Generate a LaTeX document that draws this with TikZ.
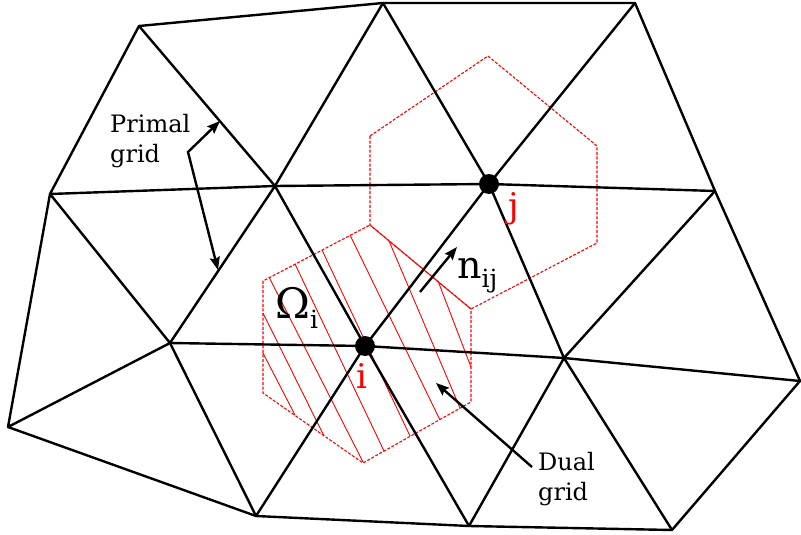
\documentclass[tikz,border=0pt]{standalone}
\usepackage{fontspec}
\setmainfont{DejaVu Serif}
\usetikzlibrary{arrows.meta}
\begin{document}
\begin{tikzpicture}[x=1pt,y=-1pt,
  edge/.style={line width=2.4pt, line cap=round, line join=round},
  dual/.style={red, line width=1.1pt, dash pattern=on 3pt off 1.6pt},
  hatch/.style={red, line width=0.9pt},
  pointer/.style={line width=2.4pt, line join=miter, -{Stealth[length=13pt,width=10pt,inset=2pt]}},
  dpointer/.style={line width=2.4pt, line join=miter, {Stealth[length=13pt,width=10pt,inset=2pt]}-{Stealth[length=13pt,width=10pt,inset=2pt]}},
  vdot/.style={circle, fill=black, inner sep=0pt, minimum size=20pt},
  lbl/.style={font=\fontsize{24}{30}\selectfont, inner sep=0pt, align=left, anchor=north west},
  redlbl/.style={red, font=\fontsize{34}{34}\selectfont, inner sep=0pt, anchor=base west},
  mathlbl/.style={inner sep=0pt, anchor=base west},
]
\useasboundingbox (0,0) rectangle (801,535);

% primal grid vertices
\coordinate (A) at (139,26);
\coordinate (B) at (383,3);
\coordinate (E) at (635,3);
\coordinate (C) at (50,194);
\coordinate (D) at (275,186);
\coordinate (F) at (715,191);
\coordinate (H) at (8,427);
\coordinate (G) at (170,343);
\coordinate (K) at (564,358);
\coordinate (L) at (800,381);
\coordinate (I) at (256,516);
\coordinate (M) at (469,526);
\coordinate (N) at (672,530);
\coordinate (Pi) at (365,346);
\coordinate (Pj) at (489,184);

% dual cells
\coordinate (a1) at (370,225);
\coordinate (a2) at (471,309);
\coordinate (a3) at (471,402);
\coordinate (a4) at (363,463);
\coordinate (a5) at (263,393);
\coordinate (a6) at (263,281);
\coordinate (b1) at (370,136);
\coordinate (b2) at (488,56);
\coordinate (b3) at (597,146);
\coordinate (b4) at (597,243);

% hatching of Omega_i
\draw[hatch] (263,353) -- (295,415);
\draw[hatch] (263,313) -- (324,436);
\draw[hatch] (269,277) -- (363,462);
\draw[hatch] (295,264) -- (384,451);
\draw[hatch] (322,250) -- (410,436);
\draw[hatch] (350,235) -- (440,420);
\draw[hatch] (389,241) -- (460,408);
\draw[hatch] (438,281) -- (471,367);

\draw[dual] (a1) -- (a2) -- (a3) -- (a4) -- (a5) -- (a6) -- cycle;
\draw[dual] (b1) -- (b2) -- (b3) -- (b4) -- (a2) -- (a1) -- cycle;

% primal edges
\draw[edge] (C) -- (A) -- (B) -- (E) -- (F) -- (L);
\draw[edge] (C) -- (D) -- (Pj) -- (F);
\draw[edge] (G) -- (Pi) -- (K) -- (L);
\draw[edge] (H) -- (I) -- (M) -- (N) -- (L);
\draw[edge] (C) -- (H) -- (G) -- (C);
\draw[edge] (A) -- (D) -- (B);
\draw[edge] (B) -- (Pj) -- (E);
\draw[edge] (G) -- (D) -- (Pi);
\draw[edge] (G) -- (I) -- (Pi) -- (M) -- (K) -- (N);
\draw[edge] (Pi) -- (Pj) -- (K) -- (F);

% vertex dots
\node[vdot] (i) at (Pi) {};
\node[vdot] (j) at (Pj) {};
\node[redlbl] (li) at (356,388) {i};
\node[redlbl] (lj) at (508,217) {j};

% labels
\node[lbl] (primal) at (110,114) {Primal\\grid};
\node[lbl] (dualg) at (538,452) {Dual\\grid};
\node[mathlbl] (omega) at (275,318) {\fontsize{42}{42}\selectfont Ω\raisebox{-10pt}{\fontsize{25}{25}\selectfont i}};
\node[mathlbl] (nij) at (457,278) {\fontsize{38}{38}\selectfont n\raisebox{-9pt}{\fontsize{25}{25}\selectfont ij}};

% pointers
\coordinate (pc) at (188,152);
\coordinate (pt1) at (220,121);
\coordinate (pt2) at (218,270);
\draw[dpointer] (pt1) -- (pc) -- (pt2);
\coordinate (ns) at (420,292);
\coordinate (ne) at (457,247);
\draw[pointer] (ns) -- (ne);
\coordinate (ds) at (532,467);
\coordinate (de) at (436,383);
\draw[pointer] (ds) -- (de);
\end{tikzpicture}
\end{document}
